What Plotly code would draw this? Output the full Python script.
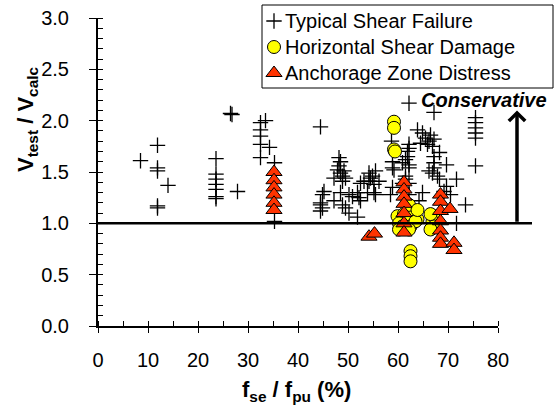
import plotly.graph_objects as go

# Typical shear failure specimens
typ_x = [8.5, 11.9, 11.9, 11.9, 14.0, 11.9, 11.9,
         23.6, 23.6, 23.6, 23.6, 23.6, 23.6, 23.6, 26.5, 26.8, 27.9,
         32.5, 32.5, 32.5, 32.5, 32.5, 33.5, 34.3, 35.3, 35.3,
         44.5, 45.2, 44.9, 44.5, 44.5, 44.9, 44.5, 47.2, 47.2,
         48.2, 48.5, 48.2, 47.9, 49.2, 48.5, 48.9, 49.5, 48.9,
         48.5, 48.9, 49.5, 50.2, 50.9, 50.2, 51.9, 52.2, 51.9, 52.5,
         52.5, 54.2, 54.5, 54.2, 55.2, 53.9, 55.2, 53.2, 56.2, 55.5, 54.9, 55.5,
         58.7, 59.2, 58.9, 58.9, 58.9, 58.5, 62.2,
         62.2, 61.9, 61.5, 60.9, 62.2, 62.2, 61.9, 62.2, 61.5, 61.5, 60.9, 62.2, 62.2,
         63.9, 64.9, 64.5, 65.5, 66.5, 66.2, 67.2, 66.9, 67.2, 66.2, 67.2, 67.9, 67.2,
         64.9, 64.2, 65.9,
         68.3, 69.7, 67.2, 66.9, 68.3, 69.7, 71.7, 69.2, 70.5, 73.5, 71.7,
         75.5, 75.5, 75.5, 75.5, 75.5, 75.5]
typ_y = [1.61, 1.76, 1.54, 1.51, 1.37, 1.17, 1.15,
         1.63, 1.48, 1.43, 1.38, 1.33, 1.26, 1.24, 2.07, 2.06, 1.31,
         1.98, 1.91, 1.85, 1.77, 1.64, 2.00, 1.74, 1.59, 1.02,
         1.94, 1.31, 1.28, 1.20, 1.18, 1.15, 1.12, 1.44, 1.22,
         1.64, 1.60, 1.56, 1.52, 1.51, 1.49, 1.46, 1.44, 1.41,
         1.30, 1.18, 1.15, 1.28, 1.26, 1.10, 1.30, 1.25, 1.06, 1.22,
         1.39, 1.49, 1.44, 1.41, 1.38, 1.30, 1.30, 1.41, 1.41, 1.51, 1.46, 1.28,
         1.80, 1.52, 1.60, 1.54, 1.35, 1.28, 2.17,
         1.77, 1.70, 1.62, 1.59, 1.57, 1.73, 1.65, 1.54, 1.46, 1.43, 1.39, 1.39, 1.28,
         1.91, 1.88, 1.78, 1.83, 1.86, 1.80, 1.82, 1.75, 1.65, 1.51, 1.54, 1.46, 2.08,
         1.30, 1.22, 1.77,
         1.69, 1.57, 1.59, 1.49, 1.43, 1.36, 1.43, 1.31, 1.28, 1.18, 1.00,
         2.03, 1.98, 1.93, 1.88, 1.83, 1.56]

# Horizontal shear damage specimens
hsd_x = [59.2, 59.2, 59.2, 59.4,
         59.9, 61.2, 62.9, 63.9, 61.9, 60.2, 60.9, 62.5, 63.5, 62.2, 60.2, 62.2, 63.9,
         67.2, 66.9, 67.2, 66.5, 66.5,
         62.5, 62.5, 62.5]
hsd_y = [1.99, 1.93, 1.72, 1.70,
         1.07, 1.09, 1.09, 1.04, 1.02, 1.00, 0.97, 0.97, 1.02, 0.94, 0.94, 1.18, 1.13,
         1.07, 1.02, 0.97, 1.09, 0.94,
         0.73, 0.68, 0.63]

# Anchorage zone distress specimens
azd_x = [35.2, 35.2, 35.2, 35.2, 35.2, 35.2,
         54.2, 55.3,
         61.2, 61.2, 61.2, 61.2, 61.2, 61.2, 61.2,
         68.5, 68.5, 68.5, 68.5, 68.5, 68.5, 68.5,
         70.4, 71.2, 71.2]
azd_y = [1.50, 1.42, 1.35, 1.28, 1.20, 1.13,
         0.87, 0.90,
         1.40, 1.33, 1.26, 1.19, 1.10, 1.00, 0.91,
         1.28, 1.21, 1.12, 1.02, 0.93, 0.86, 0.80,
         1.14, 0.81, 0.74]

series_names = ["Typical Shear Failure", "Horizontal Shear Damage",
                "Anchorage Zone Distress"]

x_ticks = [0, 10, 20, 30, 40, 50, 60, 70, 80]
y_ticks = [0.0, 0.5, 1.0, 1.5, 2.0, 2.5, 3.0]

FONT = "Liberation Sans, Arial, sans-serif"
L, R, T, B = 98, 62, 18, 83
W, H = 560, 409
PW, PH = W - L - R, H - T - B


def px_x(px):
    return (px - L) / PW


def px_y(py):
    return (H - B - py) / PH


styles = [
    dict(symbol="cross-thin", size=11, color="black",
         line=dict(color="black", width=1.3)),
    dict(symbol="circle", size=13, color="#FFFF00",
         line=dict(color="black", width=1)),
    dict(symbol="triangle-up", size=14, color="#FF3300",
         line=dict(color="black", width=1)),
]

fig = go.Figure()
for name, xs, ys, st in zip(series_names, [typ_x, hsd_x, azd_x],
                            [typ_y, hsd_y, azd_y], styles):
    fig.add_trace(go.Scatter(x=xs, y=ys, mode="markers", name=name,
                             marker=st, showlegend=False))

# Boxed key in the upper right, laid out in pixel units on a helper axis pair
key_left, key_top, key_right, key_bottom = 262, 5, 553, 88
key_rows = [21, 47, 73]
fig.add_shape(type="rect", xref="paper", yref="paper",
              x0=px_x(key_left), x1=px_x(key_right),
              y0=px_y(key_bottom), y1=px_y(key_top),
              line=dict(color="black", width=1), fillcolor="white", layer="below")
for name, st, row in zip(series_names, styles, key_rows):
    fig.add_trace(go.Scatter(x=[274], y=[row], mode="markers", marker=st,
                             xaxis="x3", yaxis="y3", showlegend=False,
                             cliponaxis=False, hoverinfo="skip"))
    fig.add_annotation(xref="paper", yref="paper", x=px_x(283), y=px_y(row),
                       xanchor="left", yanchor="middle", text=name,
                       showarrow=False,
                       font=dict(family=FONT, size=20, color="black"))

# V_test / V_calc = 1.0 reference line
fig.add_shape(type="line", xref="paper", yref="y",
              x0=0, x1=px_x(532), y0=1.0, y1=1.0,
              line=dict(color="black", width=2.5))

# "Conservative" arrow
fig.add_annotation(xref="paper", yref="y", x=px_x(517), y=2.1,
                   axref="pixel", ayref="y", ax=0, ay=1.0,
                   text="", showarrow=True, arrowhead=4, arrowsize=0.9,
                   arrowwidth=3.5, arrowcolor="black")
fig.add_annotation(xref="paper", yref="paper", x=px_x(484), y=px_y(100),
                   xanchor="center", yanchor="middle",
                   text="<b><i>Conservative</i></b>", showarrow=False,
                   font=dict(family=FONT, size=20, color="black"))

# Axis titles
fig.add_annotation(xref="paper", yref="paper", x=px_x(27), y=px_y(120),
                   xanchor="center", yanchor="middle",
                   text="<b>V<sub>test</sub> / V<sub>calc</sub></b>",
                   textangle=-90, showarrow=False,
                   font=dict(family=FONT, size=22, color="black"))
fig.add_annotation(xref="paper", yref="paper", x=px_x(296), y=px_y(391),
                   xanchor="center", yanchor="middle",
                   text="<b>f<sub>se</sub> / f<sub>pu</sub> (%)</b>",
                   showarrow=False,
                   font=dict(family=FONT, size=22, color="black"))

fig.update_layout(
    width=W, height=H,
    margin=dict(l=L, r=R, t=T, b=B),
    paper_bgcolor="white", plot_bgcolor="white",
    font=dict(family=FONT, size=20, color="black"),
    showlegend=False,
    xaxis=dict(
        range=[0, 80], tickvals=x_ticks, ticktext=[str(v) for v in x_ticks],
        showgrid=False, zeroline=False, showline=True, linecolor="black",
        linewidth=2, ticks="outside", ticklen=5, tickwidth=1, tickcolor="black",
        ticklabelstandoff=10, tickfont=dict(family=FONT, size=20, color="black"),
        minor=dict(ticks="inside", dtick=5, ticklen=5, tickwidth=1,
                   tickcolor="black"),
        automargin=False,
    ),
    yaxis=dict(
        range=[0, 3], tickvals=y_ticks, ticktext=[f"{v:.1f}" for v in y_ticks],
        showgrid=False, zeroline=False, showline=True, linecolor="black",
        linewidth=2, ticks="outside", ticklen=7, tickwidth=1, tickcolor="black",
        ticklabelstandoff=16, tickfont=dict(family=FONT, size=20, color="black"),
        minor=dict(ticks="inside", dtick=0.1, ticklen=5, tickwidth=1,
                   tickcolor="black"),
        automargin=False,
    ),
    xaxis3=dict(overlaying="x", range=[L, L + PW], visible=False, anchor="y3"),
    yaxis3=dict(overlaying="y", range=[H - B, T], visible=False, anchor="x3"),
)

fig.write_html("out.html")
